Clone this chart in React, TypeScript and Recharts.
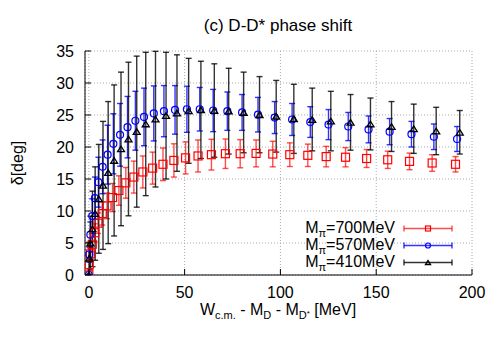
import React from 'react';
import { ScatterChart, Scatter, XAxis, YAxis, CartesianGrid, ErrorBar } from 'recharts';

// W - M_D - M_D* [MeV], phase shift [deg], error [deg]
const w700 = [0, 0.2, 0.8, 1.8, 3.1, 4.8, 7.0, 9.5, 12.4, 15.7, 19.3, 23.5, 28.2, 33.3, 38.7, 44.4, 50.5, 57.0, 64.0, 71.3, 79.0, 87.3, 96.0, 104.9, 114.3, 123.9, 134.0, 145.0, 156.0, 167.4, 179.2, 191.4];
const d700 = [0, 1.6, 3.3, 4.8, 6.6, 8.1, 9.6, 10.8, 12.1, 13.2, 14.4, 15.3, 16.1, 16.7, 17.3, 17.9, 18.3, 18.6, 18.8, 18.95, 18.95, 19.0, 18.9, 18.8, 18.7, 18.5, 18.4, 18.2, 18.0, 17.75, 17.5, 17.3];
const e700 = [0, 0.6, 0.9, 1.2, 1.4, 1.6, 1.8, 2.0, 2.2, 2.3, 2.4, 2.5, 2.5, 2.5, 2.55, 2.6, 2.5, 2.5, 2.4, 2.3, 2.2, 2.1, 2.0, 1.85, 1.75, 1.6, 1.5, 1.4, 1.35, 1.3, 1.3, 1.2];

const w570 = [0, 0.2, 0.8, 1.8, 3.2, 5.0, 7.2, 9.8, 12.8, 16.3, 20.2, 24.3, 28.8, 33.9, 39.2, 45.0, 51.2, 57.9, 64.9, 72.3, 80.0, 88.3, 97.0, 106.1, 115.6, 125.1, 135.4, 146.0, 157.0, 168.4, 180.1, 192.2];
const d570 = [0, 3.2, 6.3, 9.2, 12.0, 14.5, 16.9, 18.8, 20.5, 21.9, 23.1, 24.1, 24.7, 25.25, 25.6, 25.8, 25.9, 25.9, 25.7, 25.6, 25.4, 25.05, 24.6, 24.3, 23.9, 23.5, 23.2, 22.75, 22.4, 22.0, 21.6, 21.25];
const e570 = [0, 1.2, 2.0, 2.7, 3.3, 3.9, 4.2, 4.6, 4.7, 4.9, 4.8, 4.6, 4.5, 4.3, 4.0, 3.8, 3.6, 3.4, 3.3, 3.0, 2.8, 2.7, 2.5, 2.5, 2.4, 2.35, 2.2, 2.1, 2.05, 2.0, 2.0, 1.95];

const w410 = [0, 0.2, 0.8, 1.9, 3.3, 5.2, 7.4, 10.1, 13.2, 16.8, 20.7, 25.0, 29.7, 34.8, 40.3, 46.0, 52.1, 58.5, 65.5, 73.0, 80.8, 89.1, 97.8, 107.0, 116.6, 126.3, 136.6, 147.0, 158.0, 169.6, 181.3, 193.6];
const d410 = [0, 2.6, 5.0, 7.2, 9.6, 11.9, 14.0, 16.0, 17.9, 19.7, 21.25, 22.4, 23.6, 24.35, 24.9, 25.3, 25.65, 25.8, 25.7, 25.6, 25.4, 25.05, 24.8, 24.4, 24.3, 24.05, 23.85, 23.6, 23.2, 22.85, 22.5, 22.3];
const e410 = [0, 2.5, 4.2, 5.9, 7.3, 8.5, 10.0, 11.1, 11.8, 12.0, 12.0, 11.8, 11.2, 10.6, 9.9, 9.1, 8.2, 7.6, 7.3, 6.7, 6.3, 5.95, 5.6, 5.4, 4.9, 4.65, 4.35, 4.05, 3.9, 3.85, 3.7, 3.4];

const xTicks = [0, 50, 100, 150, 200];
const yTicks = [0, 5, 10, 15, 20, 25, 30, 35];

const FONT = "'Liberation Sans', Arial, Helvetica, sans-serif";

const toPoints = (xs: number[], ys: number[], es: number[]) =>
  xs.map((x, i) => ({ x, y: ys[i], err: es[i] }));

type MarkerKind = 'square' | 'circle' | 'triangle';

const series = [
  { mass: '700', kind: 'square' as MarkerKind, size: 8, color: '#ff0000', barOpacity: 0.7, data: toPoints(w700, d700, e700) },
  { mass: '570', kind: 'circle' as MarkerKind, size: 7, color: '#0000ff', barOpacity: 0.8, data: toPoints(w570, d570, e570) },
  { mass: '410', kind: 'triangle' as MarkerKind, size: 7, color: '#000000', barOpacity: 0.8, data: toPoints(w410, d410, e410) },
];

const marker = (kind: MarkerKind, cx: number, cy: number, s: number, color: string) => {
  if (kind === 'square')
    return <rect x={cx - s / 2} y={cy - s / 2} width={s} height={s} fill="none" stroke={color} strokeWidth={1.2} />;
  if (kind === 'circle')
    return <circle cx={cx} cy={cy} r={s / 2} fill="none" stroke={color} strokeWidth={1.2} />;
  const h = s * 0.8;
  return (
    <polygon
      points={`${cx - s / 2},${cy + h / 2} ${cx + s / 2},${cy + h / 2} ${cx},${cy - h / 2}`}
      fill="none" stroke={color} strokeWidth={1.3}
    />
  );
};

const BottomTick = ({ x, y, payload }: any) => (
  <g>
    <line x1={x} y1={y} x2={x} y2={y - 6} stroke="#000" />
    <text x={x} y={y + 23} textAnchor="middle" fontSize={16} fontFamily={FONT} fill="#000">{payload.value}</text>
  </g>
);
const TopTick = ({ x, y }: any) => <line x1={x} y1={y} x2={x} y2={y + 6} stroke="#000" />;
const LeftTick = ({ x, y, payload }: any) => (
  <g>
    <line x1={x} y1={y} x2={x + 6} y2={y} stroke="#000" />
    <text x={x - 11} y={y + 6} textAnchor="end" fontSize={16} fontFamily={FONT} fill="#000">{payload.value}</text>
  </g>
);
const RightTick = ({ x, y }: any) => <line x1={x} y1={y} x2={x - 6} y2={y} stroke="#000" />;

export default function App() {
  return (
    <div style={{ position: 'absolute', left: 0, top: 0, width: 498, height: 349, background: '#fff' }}>
      <ScatterChart width={498} height={349} margin={{ top: 51, right: 26, bottom: 44, left: 25 }}>
        <CartesianGrid stroke="#aaa" strokeDasharray="1 2" />
        <XAxis dataKey="x" type="number" domain={[-2, 200]} ticks={xTicks} interval={0} allowDataOverflow
          height={30} tickSize={0} tickMargin={0} tickLine={false} tick={<BottomTick />} axisLine={{ stroke: '#000' }} />
        <XAxis xAxisId="top" orientation="top" type="number" domain={[-2, 200]} ticks={xTicks} interval={0} allowDataOverflow
          height={0} tickSize={0} tickMargin={0} tickLine={false} tick={<TopTick />} axisLine={{ stroke: '#000' }} />
        <YAxis dataKey="y" type="number" domain={[0, 35]} ticks={yTicks} interval={0} allowDataOverflow
          width={60} tickSize={0} tickMargin={0} tickLine={false} tick={<LeftTick />} axisLine={{ stroke: '#000' }} />
        <YAxis yAxisId="right" orientation="right" type="number" domain={[0, 35]} ticks={yTicks} interval={0} allowDataOverflow
          width={0} tickSize={0} tickMargin={0} tickLine={false} tick={<RightTick />} axisLine={{ stroke: '#000' }} />
        {series.map((s) => (
          <Scatter
            key={s.mass}
            data={s.data}
            isAnimationActive={false}
            shape={(p: any) => marker(s.kind, p.cx, p.cy, s.size, s.color)}
          >
            <ErrorBar dataKey="err" direction="y" width={3} stroke={s.color} strokeOpacity={s.barOpacity}
              strokeWidth={1.4} isAnimationActive={false} />
          </Scatter>
        ))}
      </ScatterChart>
      <svg width={498} height={349} style={{ position: 'absolute', left: 0, top: 0, pointerEvents: 'none' }}
        fontFamily={FONT} fill="#000">
        <text x={278} y={31} textAnchor="middle" fontSize={17}>(c) D-D* phase shift</text>
        <text x={278} y={315} textAnchor="middle" fontSize={16}>
          W<tspan fontSize={11} dy={4}>c.m.</tspan>
          <tspan dy={-4}> - M</tspan><tspan fontSize={11} dy={4}>D</tspan>
          <tspan dy={-4}> - M</tspan><tspan fontSize={11} dy={4}>D</tspan><tspan fontSize={8} dy={-3}>*</tspan>
          <tspan dy={-1}> [MeV]</tspan>
        </text>
        <text x={23} y={163} textAnchor="middle" fontSize={16} transform="rotate(-90 23 163)">δ[deg]</text>
        {series.map((s, i) => {
          const ly = 228.5 + 17 * i;
          return (
            <g key={s.mass}>
              <text x={395} y={ly + 4.5} textAnchor="end" fontSize={16}>
                M<tspan fontSize={11} dy={4}>π</tspan><tspan dy={-4}>={s.mass}MeV</tspan>
              </text>
              <g stroke={s.color} strokeOpacity={s.barOpacity} strokeWidth={1.4}>
                <line x1={404} y1={ly} x2={452} y2={ly} />
                <line x1={404} y1={ly - 3} x2={404} y2={ly + 3} />
                <line x1={452} y1={ly - 3} x2={452} y2={ly + 3} />
              </g>
              {marker(s.kind, 428, ly, 5, s.color)}
            </g>
          );
        })}
      </svg>
    </div>
  );
}
